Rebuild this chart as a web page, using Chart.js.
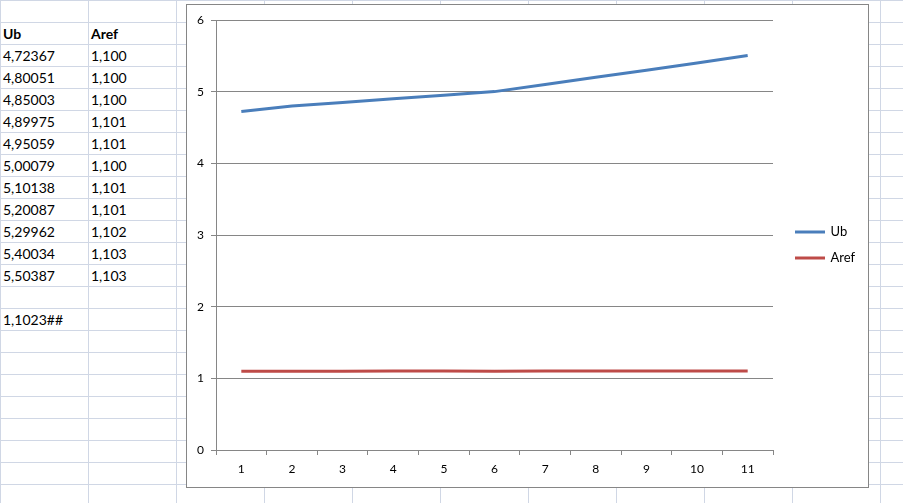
<!DOCTYPE html>
<html>
<head>
<meta charset="utf-8">
<script src="https://cdn.jsdelivr.net/npm/chart.js@4.4.0/dist/chart.umd.min.js"></script>
<style>
html,body{margin:0;padding:0;background:#fff;}
#sheet{position:absolute;left:0;top:0;width:903px;height:503px;overflow:hidden;background-color:#fff;
  background-image:linear-gradient(to right,#D0D7E5 1px,transparent 1px),linear-gradient(to bottom,#D0D7E5 1px,transparent 1px);
  background-size:88px 22px;}
.cell{position:absolute;height:22px;line-height:22px;font-family:Lato,"Open Sans",sans-serif;font-size:14px;color:#000;white-space:nowrap;}
.cell.b{font-weight:bold;}
#box{position:absolute;left:186px;top:4px;width:681px;height:482px;border:1px solid #868686;background:#fff;}
#c{display:block;}
</style>
</head>
<body>
<div id="sheet"></div>
<div id="box"><canvas id="c" width="681" height="482"></canvas></div>
<script>
// ---- data ----
const categories = ['1','2','3','4','5','6','7','8','9','10','11'];
const ubValues   = [4.72367, 4.80051, 4.85003, 4.89975, 4.95059, 5.00079, 5.10138, 5.20087, 5.29962, 5.40034, 5.50387];
const arefValues = [1.100, 1.100, 1.100, 1.101, 1.101, 1.100, 1.101, 1.101, 1.102, 1.103, 1.103];
const seriesNames = ['Ub', 'Aref'];
const extraCell = '1,1023##';
const yMin = 0, yMax = 6, yStep = 1;

// ---- spreadsheet cells ----
const sheet = document.getElementById('sheet');
function addCell(text, col, row, bold) {
  const d = document.createElement('div');
  d.className = 'cell' + (bold ? ' b' : '');
  d.textContent = text;
  d.style.left = (col * 88 + 3) + 'px';
  d.style.top = (row * 22 + 1) + 'px';
  sheet.appendChild(d);
}
addCell(seriesNames[0], 0, 1, true);
addCell(seriesNames[1], 1, 1, true);
ubValues.forEach((v, i) => addCell(v.toFixed(5).replace('.', ','), 0, i + 2));
arefValues.forEach((v, i) => addCell(v.toFixed(3).replace('.', ','), 1, i + 2));
addCell(extraCell, 0, ubValues.length + 3);

// ---- chart ----
const gridCol = '#868686';
const tickFont = {family: 'Lato', size: 12};
new Chart(document.getElementById('c'), {
  type: 'line',
  data: {
    labels: categories,
    datasets: [
      {label: seriesNames[0], data: ubValues, borderColor: '#4A7EBB', backgroundColor: '#4A7EBB', borderWidth: 3, yAxisID: 'y'},
      {label: seriesNames[1], data: arefValues, borderColor: '#BE4B48', backgroundColor: '#BE4B48', borderWidth: 3, yAxisID: 'y'}
    ]
  },
  options: {
    responsive: false,
    animation: false,
    layout: {padding: {top: 15, right: 7, bottom: 0, left: 0}},
    elements: {point: {radius: 0, hoverRadius: 0}, line: {tension: 0}},
    plugins: {
      tooltip: {enabled: false},
      legend: {
        position: 'right',
        fullSize: false,
        maxWidth: 78,
        title: {display: true, text: ' ', font: {size: 10}, padding: 4},
        labels: {
          boxWidth: 28, boxHeight: 1, padding: 13, color: '#000',
          font: {family: 'Lato', size: 13},
          generateLabels(chart) {
            const items = Chart.defaults.plugins.legend.labels.generateLabels(chart);
            items.forEach(it => { it.fillStyle = it.strokeStyle; it.lineWidth = 2; });
            return items;
          }
        }
      }
    },
    scales: {
      x: {
        type: 'category', offset: true,
        grid: {display: true, drawOnChartArea: false, drawTicks: true, tickLength: 5, color: gridCol, offset: true},
        border: {color: gridCol},
        ticks: {color: '#000', font: tickFont, padding: 7, maxRotation: 0, autoSkip: false},
        afterFit(s) { s.height = 37; }
      },
      y: {
        min: yMin, max: yMax,
        ticks: {stepSize: yStep, color: '#000', font: tickFont, padding: 7},
        grid: {color: gridCol, tickLength: 5},
        border: {color: gridCol},
        afterFit(s) { s.width = 29; }
      },
      gap: {
        position: 'right', display: true,
        grid: {display: false, drawTicks: false}, border: {display: false},
        ticks: {display: false},
        afterFit(s) { s.width = 10; }
      }
    }
  }
});
</script>
</body>
</html>
